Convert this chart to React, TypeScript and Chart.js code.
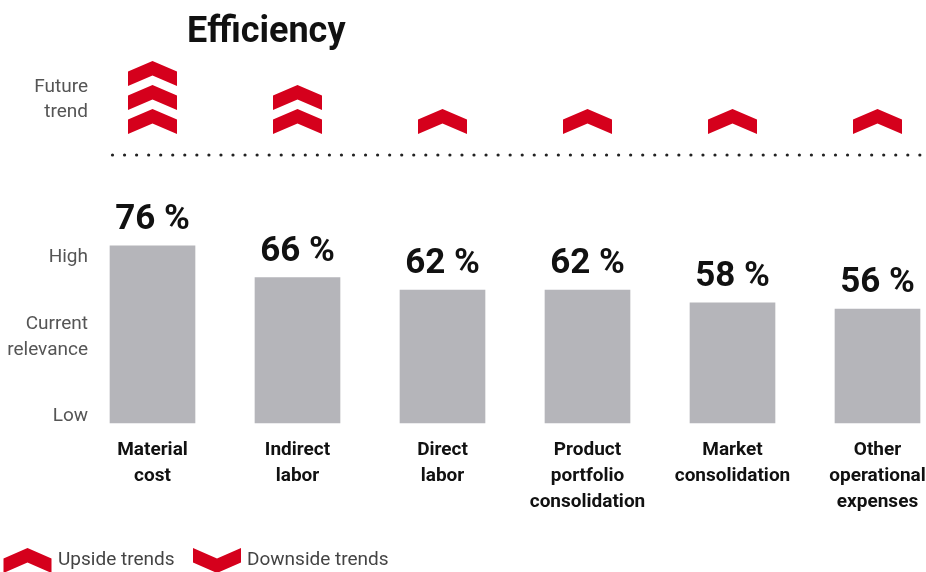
import React, { useEffect, useRef } from "react";
import { Chart, registerables } from "chart.js";
Chart.register(...registerables);

const titleText = "Efficiency";
const categories = [
  ["Material", "cost"],
  ["Indirect", "labor"],
  ["Direct", "labor"],
  ["Product", "portfolio", "consolidation"],
  ["Market", "consolidation"],
  ["Other", "operational", "expenses"],
];
const relevance = [76, 66, 62, 62, 58, 56];
const futureTrend = [3, 2, 1, 1, 1, 1];
const yMin = 20;
const yMax = 100;
const yTickValues = [22, 47, 72.4];
const yTickLabels = [["Low"], ["Current", "relevance"], ["High"]];
const trendLabel = ["Future", "trend"];
const legendLabels = ["Upside trends", "Downside trends"];

const RED = "#d5001c";
const FONT = "Roboto";

function chevron(ctx: CanvasRenderingContext2D, x: number, bottom: number, up: boolean, half = 24.5) {
  ctx.beginPath();
  if (up) {
    ctx.moveTo(x - half, bottom);
    ctx.lineTo(x - half, bottom - 14.5);
    ctx.lineTo(x, bottom - 25);
    ctx.lineTo(x + half, bottom - 14.5);
    ctx.lineTo(x + half, bottom);
    ctx.lineTo(x, bottom - 10.5);
  } else {
    const top = bottom - 25;
    ctx.moveTo(x - half, top);
    ctx.lineTo(x, top + 10.5);
    ctx.lineTo(x + half, top);
    ctx.lineTo(x + half, top + 14.5);
    ctx.lineTo(x, bottom);
    ctx.lineTo(x - half, top + 14.5);
  }
  ctx.closePath();
  ctx.fillStyle = RED;
  ctx.fill();
}

const decorPlugin = {
  id: "decor",
  afterDatasetsDraw(chart: any) {
    const ctx: CanvasRenderingContext2D = chart.ctx;
    const meta = chart.getDatasetMeta(0);
    ctx.save();
    // percentage labels
    ctx.font = `bold 35px ${FONT}`;
    ctx.fillStyle = "#111";
    ctx.textAlign = "center";
    ctx.textBaseline = "alphabetic";
    meta.data.forEach((bar: any, i: number) => {
      ctx.fillText(`${relevance[i]} %`, bar.x, bar.y - 17);
    });
    // title
    ctx.font = `bold 36px ${FONT}`;
    ctx.textAlign = "left";
    ctx.fillText(titleText, 187, 42);
    // future trend label
    ctx.font = `19px ${FONT}`;
    ctx.fillStyle = "#555";
    ctx.textAlign = "right";
    ctx.textBaseline = "middle";
    ctx.fillText(trendLabel[0], 88, 87);
    ctx.fillText(trendLabel[1], 88, 112);
    // chevrons
    const xs = chart.scales.x;
    futureTrend.forEach((n, i) => {
      const x = xs.getPixelForValue(i);
      for (let k = 0; k < n; k++) chevron(ctx, x, 134 - 24 * k, true);
    });
    // dotted line
    ctx.fillStyle = "#222";
    for (let x = 112.5; x < 930; x += 12.05) {
      ctx.beginPath();
      ctx.arc(x, 155, 1.6, 0, Math.PI * 2);
      ctx.fill();
    }
    // legend
    chevron(ctx, 27.5, 573, true, 24);
    chevron(ctx, 217, 573, false, 24);
    ctx.font = `19px ${FONT}`;
    ctx.fillStyle = "#444";
    ctx.textAlign = "left";
    ctx.textBaseline = "middle";
    ctx.fillText(legendLabels[0], 58, 560.5);
    ctx.fillText(legendLabels[1], 247, 560.5);
    ctx.restore();
  },
};

export default function App() {
  const ref = useRef<HTMLCanvasElement>(null);
  useEffect(() => {
    if (!ref.current) return;
    const chart = new Chart(ref.current, {
      type: "bar",
      data: {
        labels: categories as any,
        datasets: [
          {
            data: relevance,
            backgroundColor: "#b5b5ba",
            barThickness: 85,
            base: yMin,
            clip: false as any,
          },
        ],
      },
      options: {
        responsive: false,
        animation: false,
        layout: { padding: { left: 0, right: 48.5, top: 170, bottom: 0 } },
        plugins: { legend: { display: false }, tooltip: { enabled: false } },
        scales: {
          x: {
            type: "category",
            offset: false,
            grid: { display: false, drawTicks: false },
            border: { display: false },
            ticks: {
              autoSkip: false,
              maxRotation: 0,
              minRotation: 0,
              padding: 14,
              color: "#111",
              font: { family: FONT, size: 19, weight: "bold", lineHeight: 1.37 },
            },
            afterFit: (s: any) => {
              s.paddingLeft = 0;
              s.paddingRight = 0;
              s.height = 149;
            },
          },
          y: {
            min: yMin,
            max: yMax,
            grid: { display: false, drawTicks: false },
            border: { display: false },
            afterBuildTicks: (s: any) => {
              s.ticks = yTickValues.map((v) => ({ value: v }));
            },
            ticks: {
              padding: 64.5,
              color: "#555",
              font: { family: FONT, size: 19, lineHeight: 1.37 },
              callback: (_v: any, i: number) => yTickLabels[i] as any,
            },
            afterFit: (s: any) => {
              s.width = 152.5;
              s.paddingTop = 0;
              s.paddingBottom = 0;
            },
          },
        },
      },
      plugins: [decorPlugin],
    });
    return () => chart.destroy();
  }, []);
  return (
    <div style={{ position: "absolute", left: 0, top: 0, width: 926, height: 572 }}>
      <canvas ref={ref} width={926} height={572} style={{ display: "block" }} />
    </div>
  );
}
